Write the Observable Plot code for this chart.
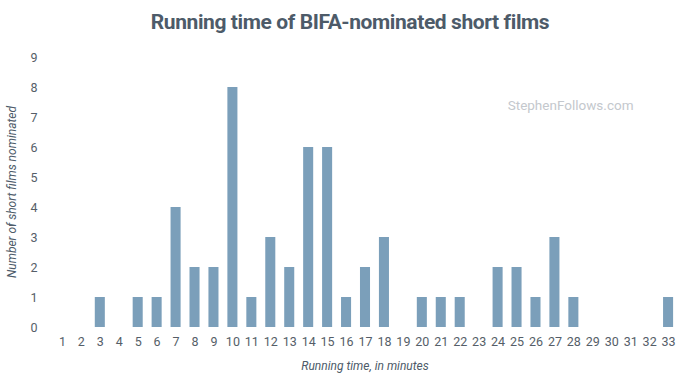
<!DOCTYPE html>
<html><head><meta charset="utf-8">
<script src="https://cdn.jsdelivr.net/npm/d3@7"></script>
<script src="https://cdn.jsdelivr.net/npm/@observablehq/plot@0.6"></script>
<style>
body{margin:0;background:#fff;font-family:Roboto,sans-serif;}
#title{height:42px;line-height:44px;text-align:center;font-size:21px;font-weight:700;color:#4d5b69;letter-spacing:-0.4px;}
</style></head>
<body>
<div id="title">Running time of BIFA-nominated short films</div>
<div id="chart"></div>
<script>
const minutes = [1,2,3,4,5,6,7,8,9,10,11,12,13,14,15,16,17,18,19,20,21,22,23,24,25,26,27,28,29,30,31,32,33];
const counts  = [0,0,1,0,1,1,4,2,2,8,1,3,2,6,6,1,2,3,0,1,1,1,0,2,2,1,3,1,0,0,0,0,1];
const yTicks = [0,1,2,3,4,5,6,7,8,9];
const watermark = "StephenFollows.com";
const data = minutes.map((m,i)=>({minute:m, count:counts[i]}));

const chart = Plot.plot({
  width:700, height:342,
  marginTop:15, marginBottom:57, marginLeft:48, marginRight:18,
  style:{fontFamily:"Roboto, sans-serif", fontSize:"12.5px", color:"#555e68", background:"#fff"},
  x:{type:"band", domain:minutes, padding:0.47, label:null, tickSize:0, tickPadding:9},
  y:{domain:[0,9], ticks:yTicks, label:null, tickSize:0, tickPadding:11},
  marks:[
    Plot.gridY(yTicks, {stroke:"#e4e7ee", strokeOpacity:1, x1:48, x2:685}),
    Plot.barY(data, {x:"minute", y:"count", fill:"#7b9fba"}),
    Plot.axisX({tickSize:0, tickPadding:10, fontSize:12.5, fill:"#555e68"}),
    Plot.axisY(yTicks, {tickSize:0, tickPadding:11, fontSize:12.5, fill:"#555e68"}),
    Plot.text([watermark], {frameAnchor:"top-right", dx:-49, dy:43, text:d=>d, fill:"#c4c8cd", fontSize:13.5, textAnchor:"end"})
  ]
});
document.getElementById("chart").appendChild(chart);

const svg = d3.select(chart);
svg.append("text").attr("x", 365).attr("y", 328).attr("text-anchor","middle")
  .attr("font-style","italic").attr("font-size",12).attr("fill","#4d5b69")
  .text("Running time, in minutes");
svg.append("text").attr("transform","translate(16,150) rotate(-90)").attr("text-anchor","middle")
  .attr("font-style","italic").attr("font-size",12).attr("fill","#4d5b69")
  .text("Number of short films nominated");
</script>
</body></html>
